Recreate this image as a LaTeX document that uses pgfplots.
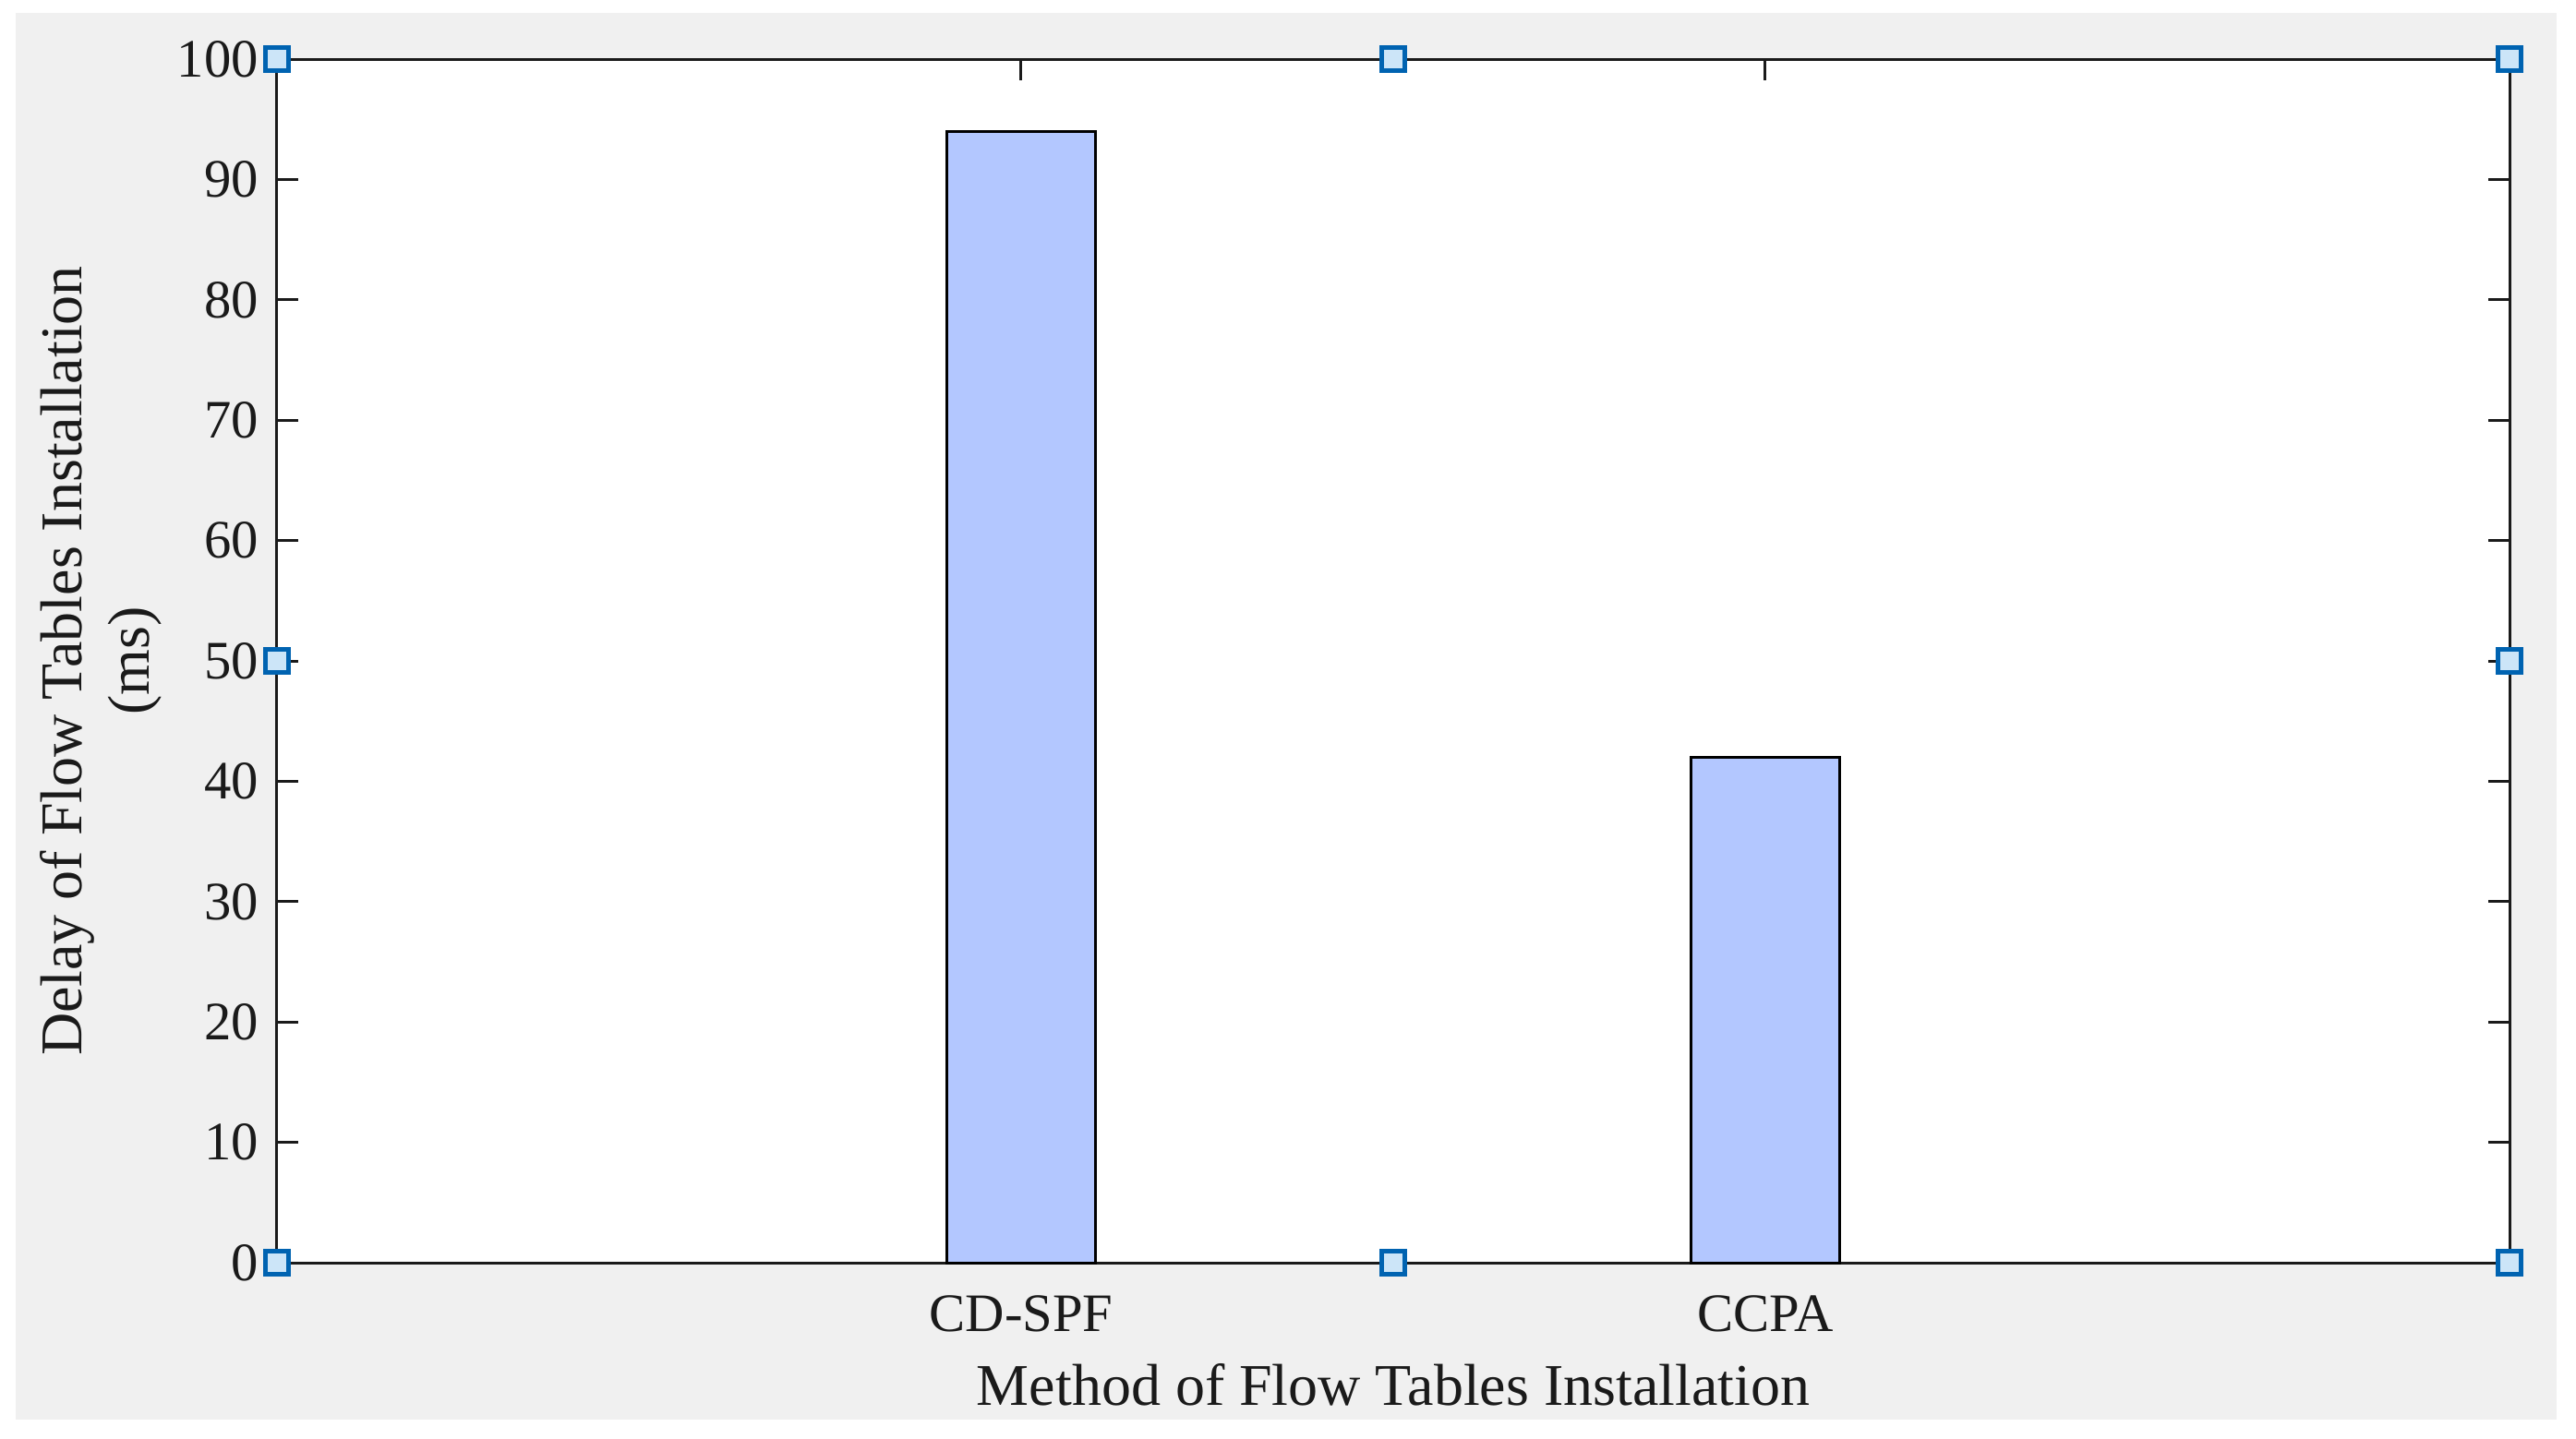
\documentclass[border=0pt]{standalone}
\usepackage{pgfplots}
\pgfplotsset{compat=1.18}
\usepackage{fontspec}
\setmainfont{Liberation Serif}

\definecolor{figgray}{HTML}{F0F0F0}
\definecolor{barblue}{HTML}{B3C7FF}
\definecolor{axgray}{HTML}{1A1A1A}
\definecolor{hedge}{HTML}{0063B1}
\definecolor{hfill}{HTML}{CCE5F8}

\begin{document}
\begin{tikzpicture}
% figure frame (white margin, grey figure area)
\fill[white] (-45pt,-28.5pt) rectangle (373.5pt,205.2pt);
\fill[figgray] (-42.45pt,-25.5pt) rectangle (370.35pt,203.1pt);

\begin{axis}[
    at={(0,0)}, anchor=south west,
    scale only axis,
    width=362.7pt, height=195.6pt,
    xmin=0, xmax=3,
    ymin=0, ymax=100,
    axis background/.style={fill=white},
    axis line style={axgray, line width=0.45pt},
    every tick/.style={axgray, line width=0.45pt},
    major tick length=3.45pt,
    tick align=inside,
    xtick={1,2},
    xticklabels={CD-SPF, CCPA},
    xtick pos=upper, xticklabel pos=lower,
    ytick={0,10,...,100},
    ytick pos=both, yticklabel pos=lower,
    /pgf/number format/assume math mode=true,
    ticklabel style={font=\fontsize{8.8}{10}\selectfont, text=axgray},
    yticklabel style={anchor=east, inner sep=0pt, xshift=-2.8pt},
    xticklabel style={anchor=center, inner sep=0pt, yshift=-8.3pt},
    xlabel={Method of Flow Tables Installation},
    ylabel={Delay of Flow Tables Installation\\(ms)},
    label style={font=\fontsize{9.6}{10.95}\selectfont, text=axgray},
    xlabel style={at={(axis description cs:0.5,0)}, anchor=center, yshift=-19.8pt},
    ylabel style={at={([xshift=-28.6pt]axis description cs:0,0.5)}, anchor=center, align=center},
    clip=false,
]

\addplot[ybar, bar width=0.2, fill=barblue, draw=black, line width=0.45pt]
    coordinates {(1,94) (2,42)};

% selection handles
\addplot[only marks, mark=square*, mark size=1.85pt,
    mark options={fill=hfill, draw=hedge, line width=0.7pt, rounded corners=0.4pt}]
    coordinates {(0,0) (1.5,0) (3,0) (0,50) (3,50) (0,100) (1.5,100) (3,100)};

\end{axis}
\end{tikzpicture}
\end{document}
